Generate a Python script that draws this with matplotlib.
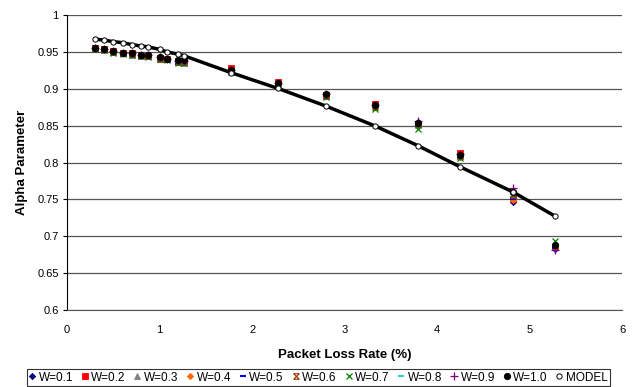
import numpy as np
import matplotlib.pyplot as plt
from matplotlib.path import Path

plt.rcParams['font.family'] = ['Liberation Sans', 'DejaVu Sans']

# packet loss rate (%)
loss = [0.3, 0.4, 0.5, 0.6, 0.7, 0.8, 0.87, 1.0, 1.08, 1.2, 1.26,
        1.77, 2.28, 2.8, 3.33, 3.79, 4.25, 4.82, 5.27]

# measured alpha for each window W
w01 = [0.955, 0.953, 0.950, 0.948, 0.947, 0.945, 0.945, 0.942, 0.940, 0.936, 0.937,
       0.924, 0.906, 0.891, 0.876, 0.855, 0.808, 0.747, 0.683]
w02 = [0.956, 0.954, 0.951, 0.949, 0.948, 0.945, 0.945, 0.942, 0.941, 0.938, 0.938,
       0.928, 0.909, 0.892, 0.879, 0.852, 0.813, 0.750, 0.686]
w03 = [0.955, 0.953, 0.950, 0.948, 0.946, 0.944, 0.944, 0.941, 0.940, 0.936, 0.935,
       0.924, 0.907, 0.890, 0.877, 0.851, 0.809, 0.752, 0.687]
w04 = [0.956, 0.953, 0.950, 0.949, 0.947, 0.946, 0.945, 0.942, 0.940, 0.937, 0.938,
       0.925, 0.908, 0.891, 0.876, 0.850, 0.808, 0.749, 0.685]
w05 = [0.955, 0.953, 0.951, 0.948, 0.947, 0.945, 0.945, 0.942, 0.940, 0.934, 0.937,
       0.925, 0.907, 0.892, 0.877, 0.850, 0.807, 0.751, 0.684]
w06 = [0.955, 0.954, 0.950, 0.948, 0.947, 0.946, 0.944, 0.941, 0.941, 0.937, 0.936,
       0.924, 0.907, 0.890, 0.876, 0.852, 0.809, 0.756, 0.686]
w07 = [0.954, 0.952, 0.949, 0.947, 0.946, 0.944, 0.943, 0.940, 0.939, 0.935, 0.935,
       0.923, 0.905, 0.889, 0.873, 0.845, 0.806, 0.758, 0.693]
w08 = [0.955, 0.953, 0.950, 0.948, 0.947, 0.945, 0.945, 0.942, 0.940, 0.937, 0.937,
       0.925, 0.907, 0.891, 0.877, 0.852, 0.809, 0.757, 0.687]
w09 = [0.956, 0.954, 0.951, 0.949, 0.948, 0.946, 0.946, 0.943, 0.941, 0.938, 0.938,
       0.925, 0.908, 0.893, 0.878, 0.857, 0.811, 0.766, 0.682]
w10 = [0.956, 0.954, 0.951, 0.949, 0.948, 0.946, 0.946, 0.943, 0.941, 0.939, 0.939,
       0.925, 0.908, 0.893, 0.878, 0.853, 0.810, 0.760, 0.688]
model = [0.9675, 0.966, 0.964, 0.9625, 0.960, 0.958, 0.957, 0.9535, 0.950, 0.947, 0.945,
         0.922, 0.9005, 0.8765, 0.8495, 0.823, 0.794, 0.760, 0.7275]

labels = ['W=0.1', 'W=0.2', 'W=0.3', 'W=0.4', 'W=0.5', 'W=0.6', 'W=0.7',
          'W=0.8', 'W=0.9', 'W=1.0', 'MODEL']

# excel style "star": an x with bars on top and bottom
star = Path([(-1, -1), (1, 1), (-1, 1), (1, -1), (-1, 1), (1, 1), (-1, -1), (1, -1)],
            [Path.MOVETO, Path.LINETO] * 4)

styles = [
    dict(marker='D', color='#000080', ms=3.2),
    dict(marker='s', color='#ff0000', ms=4),
    dict(marker='^', color='#808080', ms=4),
    dict(marker='D', color='#ff6600', ms=3.2),
    dict(marker='_', color='#0000ff', ms=4.5, mew=1.5),
    dict(marker=star, color='#993300', ms=4, mew=0.8),
    dict(marker='x', color='#008000', ms=4.5, mew=0.9),
    dict(marker='_', color='#33cccc', ms=4.5, mew=1.5),
    dict(marker='+', color='#800080', ms=5.5, mew=0.9),
    dict(marker='o', color='#000000', ms=4.6),
]
series = [w01, w02, w03, w04, w05, w06, w07, w08, w09, w10]

fig = plt.figure(figsize=(6.33, 3.87), dpi=100)
ax = fig.add_axes([0.106, 0.199, 0.877, 0.762])

for vals, st, lab in zip(series, styles, labels):
    ax.plot(loss, vals, linestyle='none', marker=st['marker'], color=st['color'],
            markersize=st['ms'], markeredgewidth=st.get('mew', 0.6), label=lab)

ax.plot(loss, model, color='black', lw=2.5, marker='o', markersize=3.8,
        markerfacecolor='white', markeredgecolor='black', markeredgewidth=0.7,
        label='MODEL')

ax.set_xlim(0, 6)
ax.set_ylim(0.6, 1.0)
ax.set_xticks(range(0, 7))
ax.set_yticks(np.arange(0.6, 1.001, 0.05))
ax.set_yticklabels(['0.6', '0.65', '0.7', '0.75', '0.8', '0.85', '0.9', '0.95', '1'])
ax.yaxis.grid(True, color='#555555', lw=0.9)
ax.set_axisbelow(True)
ax.spines['top'].set_visible(False)
ax.spines['right'].set_visible(False)
ax.spines['bottom'].set_color('#555555')
ax.tick_params(axis='y', direction='out', length=3, labelsize=8, pad=3)
ax.tick_params(axis='x', length=0, labelsize=8, pad=11)

ax.set_xlabel('Packet Loss Rate (%)', fontsize=9.5, fontweight='bold', labelpad=10)
ax.set_ylabel('Alpha Parameter', fontsize=9.5, fontweight='bold', labelpad=7)

# legend row below the plot
h, l = ax.get_legend_handles_labels()
leg = fig.legend(h, l, loc='center', bbox_to_anchor=(0.503, 0.0245), ncol=11,
                 fontsize=8.5, frameon=True, fancybox=False, handlelength=0.5,
                 handletextpad=0.3, columnspacing=0.75, borderpad=0.2,
                 borderaxespad=0)
leg.get_frame().set_edgecolor('black')
leg.get_frame().set_linewidth(0.8)
for lh in leg.legend_handles[-1:]:
    lh.set_linewidth(0)

fig.savefig('out.png', dpi=100)
